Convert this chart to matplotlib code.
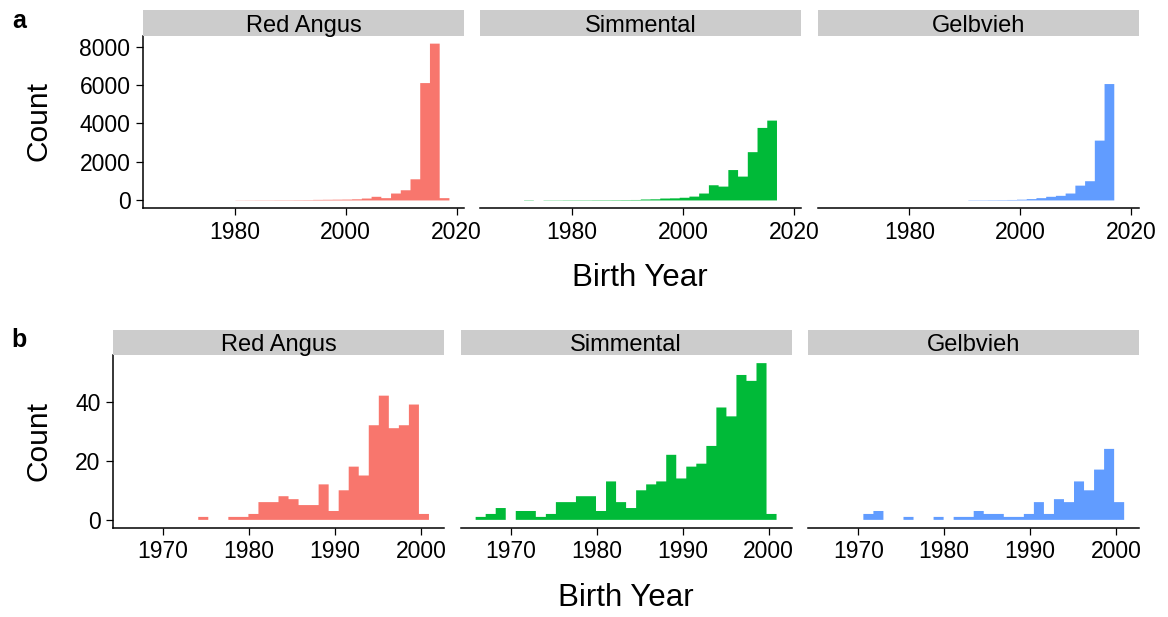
import numpy as np
import matplotlib
matplotlib.use("Agg")
import matplotlib.pyplot as plt

plt.rcParams["font.family"] = ["Liberation Sans", "DejaVu Sans"]

breeds = ["Red Angus", "Simmental", "Gelbvieh"]
colors = ["#F8766D", "#00BA38", "#619CFF"]

# Histogram bins (birth year), shared by the three facets of each row
bins_a = np.linspace(1966.1, 2018.7, 31)
bins_b = np.linspace(1965.93, 2000.93, 31)

# Row a: counts per bin
red_angus_a = [0, 0, 0, 0, 0, 0, 0, 0, 8, 10, 12, 12, 15, 15, 18, 20,
               30, 35, 40, 45, 60, 100, 190, 120, 360, 530, 1100, 6100, 8150, 120]
simmental_a = [0, 0, 0, 15, 0, 12, 12, 15, 15, 15, 18, 18, 20, 22, 25,
               50, 60, 100, 110, 140, 200, 360, 790, 720, 1580, 1240, 2510, 3770, 4150, 0]
gelbvieh_a = [0, 0, 0, 0, 0, 0, 0, 0, 0, 0, 0, 0, 0, 0, 15, 15, 18, 20, 25,
              40, 70, 120, 190, 240, 360, 770, 1000, 3110, 6050, 0]

# Row b: counts per bin
red_angus_b = [0, 0, 0, 0, 0, 0, 0, 1, 0, 0, 1, 1, 2, 6, 6, 8, 7, 5, 5, 12,
               3, 10, 18, 15, 32, 42, 31, 32, 39, 2]
simmental_b = [1, 2, 4, 0, 3, 3, 1, 2, 6, 6, 8, 8, 3, 13, 6, 4, 10, 12, 13, 22,
               14, 18, 19, 25, 38, 35, 49, 47, 53, 2]
gelbvieh_b = [0, 0, 0, 0, 2, 3, 0, 0, 1, 0, 0, 1, 0, 1, 1, 3, 2, 2, 1, 1,
              2, 6, 2, 7, 6, 13, 10, 17, 24, 6]

xticks_a = [1980, 2000, 2020]
yticks_a = [0, 2000, 4000, 6000, 8000]
xticks_b = [1970, 1980, 1990, 2000]
yticks_b = [0, 20, 40]

W, H = 1168, 617
fig = plt.figure(figsize=(W / 100, H / 100), dpi=100)


def rect(left, top, width, height):
    return [left / W, 1 - (top + height) / H, width / W, height / H]


def facet_row(counts, bins, lefts, width, top, height, xticks, yticks):
    ymax = max(max(c) for c in counts)
    span = bins[-1] - bins[0]
    for i, (c, left) in enumerate(zip(counts, lefts)):
        ax = fig.add_axes(rect(left, top, width, height))
        ax.stairs(c, bins, fill=True, color=colors[i], linewidth=0, snap=False)
        ax.set_xlim(bins[0] - 0.05 * span, bins[-1] + 0.05 * span)
        ax.set_ylim(-0.05 * ymax, 1.05 * ymax)
        ax.set_xticks(xticks)
        ax.set_yticks(yticks)
        for s in ["top", "right"]:
            ax.spines[s].set_visible(False)
        ax.spines["bottom"].set_linewidth(1.1)
        ax.spines["left"].set_linewidth(1.1)
        ax.tick_params(length=5, width=0.9, labelsize=16.5, pad=4)
        if i > 0:
            ax.spines["left"].set_visible(False)
            ax.tick_params(axis="y", left=False, labelleft=False)
        # facet strip
        sax = fig.add_axes(rect(left, top - 25.5, width, 25.5))
        sax.set_facecolor("#CCCCCC")
        for s in sax.spines.values():
            s.set_visible(False)
        sax.set_xticks([])
        sax.set_yticks([])
        sax.text(0.5, 0.4, breeds[i], ha="center", va="center",
                 fontsize=17, transform=sax.transAxes)


facet_row([red_angus_a, simmental_a, gelbvieh_a], bins_a,
          [143, 480.3, 817.6], 321, 35.8, 172.5, xticks_a, yticks_a)
facet_row([red_angus_b, simmental_b, gelbvieh_b], bins_b,
          [113, 460.6, 808.2], 331, 355.3, 172.4, xticks_b, yticks_b)

# axis titles and row letters
fig.text(39 / W, 1 - 121 / H, "Count", rotation=90, ha="center", va="center", fontsize=21.5)
fig.text(39 / W, 1 - 441 / H, "Count", rotation=90, ha="center", va="center", fontsize=21.5)
fig.text(640 / W, 1 - 278 / H, "Birth Year", ha="center", va="center", fontsize=22.5)
fig.text(626 / W, 1 - 598 / H, "Birth Year", ha="center", va="center", fontsize=22.5)
fig.text(19 / W, 1 - 21 / H, "a", ha="center", va="center", fontsize=18, fontweight="bold")
fig.text(19 / W, 1 - 340 / H, "b", ha="center", va="center", fontsize=18, fontweight="bold")

fig.savefig("out.png", dpi=100)
